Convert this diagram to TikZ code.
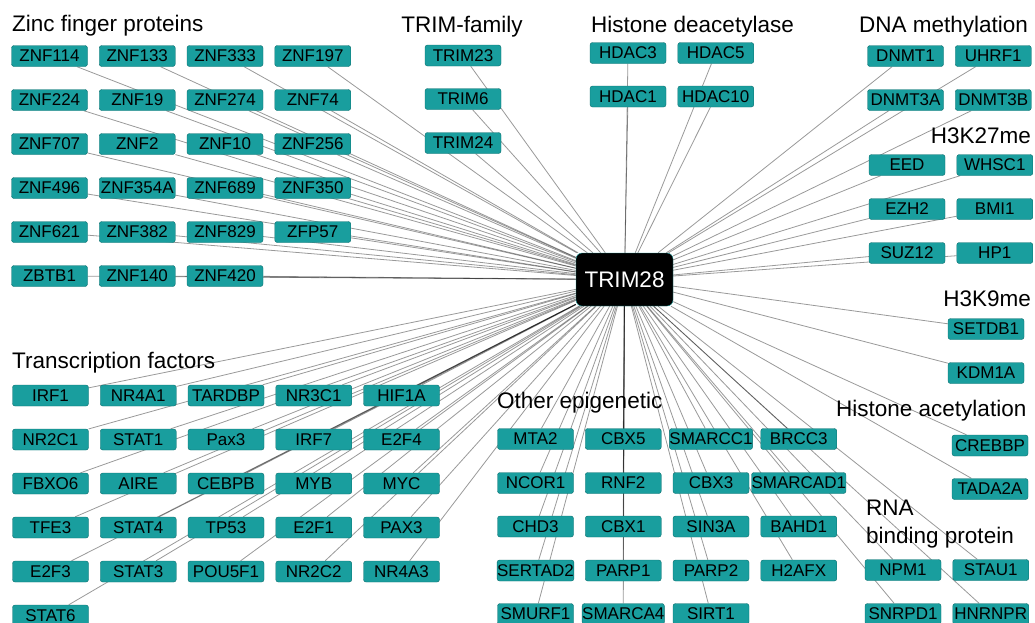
\documentclass[tikz,border=0pt]{standalone}
\usepackage{fontspec}
\setmainfont{Liberation Sans}
\usetikzlibrary{backgrounds}
\definecolor{genefill}{RGB}{25,158,158}
\definecolor{geneline}{RGB}{12,110,110}

\begin{document}
\begin{tikzpicture}[x=1pt, y=-1pt, node distance=87.75pt,
    gene/.style = {draw=geneline, fill=genefill, rounded corners=2.5pt, minimum width=76pt, minimum height=21pt, inner sep=0pt, font=\fontsize{17}{17}\selectfont},
    hub/.style = {draw=genefill, fill=black, text=white, rounded corners=6pt, minimum width=97pt, minimum height=53pt, font=\fontsize{22.5}{22.5}\selectfont},
    group/.style = {inner sep=0pt, font=\fontsize{22.5}{22.5}\selectfont},
    ppi/.style = {draw=black, opacity=0.4, line width=0.8pt}]
    \useasboundingbox (0,0) rectangle (1035,622);
    \clip (0,0) rectangle (1035,622);

    \node[hub] (trim28) at (624.5,279.5) {TRIM28};

    % zinc finger proteins
    \node[group, anchor=base west] (zfgroup) at (12,31.5) {Zinc finger proteins};
    \node[gene] (znf114) at (49.5,56) {ZNF114};
    \node[gene] (znf133) [right of=znf114] {ZNF133};
    \node[gene] (znf333) [right of=znf133] {ZNF333};
    \node[gene] (znf197) [right of=znf333] {ZNF197};
    \node[gene] (znf224) at (49.5,100) {ZNF224};
    \node[gene] (znf19) [right of=znf224] {ZNF19};
    \node[gene] (znf274) [right of=znf19] {ZNF274};
    \node[gene] (znf74) [right of=znf274] {ZNF74};
    \node[gene] (znf707) at (49.5,144) {ZNF707};
    \node[gene] (znf2) [right of=znf707] {ZNF2};
    \node[gene] (znf10) [right of=znf2] {ZNF10};
    \node[gene] (znf256) [right of=znf10] {ZNF256};
    \node[gene] (znf496) at (49.5,188) {ZNF496};
    \node[gene] (znf354a) [right of=znf496] {ZNF354A};
    \node[gene] (znf689) [right of=znf354a] {ZNF689};
    \node[gene] (znf350) [right of=znf689] {ZNF350};
    \node[gene] (znf621) at (49.5,232) {ZNF621};
    \node[gene] (znf382) [right of=znf621] {ZNF382};
    \node[gene] (znf829) [right of=znf382] {ZNF829};
    \node[gene] (zfp57) [right of=znf829] {ZFP57};
    \node[gene] (zbtb1) at (49.5,276) {ZBTB1};
    \node[gene] (znf140) [right of=zbtb1] {ZNF140};
    \node[gene] (znf420) [right of=znf140] {ZNF420};

    % TRIM family and deacetylases
    \node[group, anchor=base] (trimgroup) at (462,32) {TRIM-family};
    \node[gene] (trim23) at (463,55.5) {TRIM23};
    \node[gene] (trim6) at (463,99) {TRIM6};
    \node[gene] (trim24) at (463,143) {TRIM24};
    \node[group, anchor=base west] (hdacgroup) at (591,32) {Histone deacetylase};
    \node[gene] (hdac3) at (628,53) {HDAC3};
    \node[gene] (hdac5) [right of=hdac3] {HDAC5};
    \node[gene] (hdac1) at (628,96.5) {HDAC1};
    \node[gene] (hdac10) [right of=hdac1] {HDAC10};

    % DNA methylation, H3K27me, H3K9me
    \node[group, anchor=base west] (dnagroup) at (859,32) {DNA methylation};
    \node[gene] (dnmt1) at (905.5,56) {DNMT1};
    \node[gene] (uhrf1) [right of=dnmt1] {UHRF1};
    \node[gene] (dnmt3a) at (905.5,100) {DNMT3A};
    \node[gene] (dnmt3b) [right of=dnmt3a] {DNMT3B};
    \node[group, anchor=base east] (k27group) at (1031,143.5) {H3K27me};
    \node[gene] (eed) at (907,165) {EED};
    \node[gene] (whsc1) [right of=eed] {WHSC1};
    \node[gene] (ezh2) at (907,209) {EZH2};
    \node[gene] (bmi1) [right of=ezh2] {BMI1};
    \node[gene] (suz12) at (907,253) {SUZ12};
    \node[gene] (hp1) [right of=suz12] {HP1};
    \node[group, anchor=base east] (k9group) at (1031,306) {H3K9me};
    \node[gene] (setdb1) at (986,329) {SETDB1};
    \node[gene] (kdm1a) at (986,373) {KDM1A};

    % transcription factors
    \node[group, anchor=base west] (tfgroup) at (12,368) {Transcription factors};
    \node[gene] (irf1) at (50.5,395.5) {IRF1};
    \node[gene] (nr4a1) [right of=irf1] {NR4A1};
    \node[gene] (tardbp) [right of=nr4a1] {TARDBP};
    \node[gene] (nr3c1) [right of=tardbp] {NR3C1};
    \node[gene] (hif1a) [right of=nr3c1] {HIF1A};
    \node[gene] (nr2c1) at (50.5,439.5) {NR2C1};
    \node[gene] (stat1) [right of=nr2c1] {STAT1};
    \node[gene] (pax3m) [right of=stat1] {Pax3};
    \node[gene] (irf7) [right of=pax3m] {IRF7};
    \node[gene] (e2f4) [right of=irf7] {E2F4};
    \node[gene] (fbxo6) at (50.5,483.5) {FBXO6};
    \node[gene] (aire) [right of=fbxo6] {AIRE};
    \node[gene] (cebpb) [right of=aire] {CEBPB};
    \node[gene] (myb) [right of=cebpb] {MYB};
    \node[gene] (myc) [right of=myb] {MYC};
    \node[gene] (tfe3) at (50.5,527.5) {TFE3};
    \node[gene] (stat4) [right of=tfe3] {STAT4};
    \node[gene] (tp53) [right of=stat4] {TP53};
    \node[gene] (e2f1) [right of=tp53] {E2F1};
    \node[gene] (pax3) [right of=e2f1] {PAX3};
    \node[gene] (e2f3) at (50.5,571.5) {E2F3};
    \node[gene] (stat3) [right of=e2f3] {STAT3};
    \node[gene] (pou5f1) [right of=stat3] {POU5F1};
    \node[gene] (nr2c2) [right of=pou5f1] {NR2C2};
    \node[gene] (nr4a3) [right of=nr2c2] {NR4A3};
    \node[gene] (stat6) at (50.5,615.5) {STAT6};

    % other epigenetic
    \node[group, anchor=base west] (epigroup) at (497,408) {Other epigenetic};
    \node[gene] (mta2) at (535.5,439) {MTA2};
    \node[gene] (cbx5) [right of=mta2] {CBX5};
    \node[gene] (smarcc1) [right of=cbx5] {SMARCC1};
    \node[gene] (brcc3) [right of=smarcc1] {BRCC3};
    \node[gene] (ncor1) at (535.5,483) {NCOR1};
    \node[gene] (rnf2) [right of=ncor1] {RNF2};
    \node[gene] (cbx3) [right of=rnf2] {CBX3};
    \node[gene] (smarcad1) [right of=cbx3] {SMARCAD1};
    \node[gene] (chd3) at (535.5,526.5) {CHD3};
    \node[gene] (cbx1) [right of=chd3] {CBX1};
    \node[gene] (sin3a) [right of=cbx1] {SIN3A};
    \node[gene] (bahd1) [right of=sin3a] {BAHD1};
    \node[gene] (sertad2) at (535.5,570.5) {SERTAD2};
    \node[gene] (parp1) [right of=sertad2] {PARP1};
    \node[gene] (parp2) [right of=parp1] {PARP2};
    \node[gene] (h2afx) [right of=parp2] {H2AFX};
    \node[gene] (smurf1) at (535.5,614) {SMURF1};
    \node[gene] (smarca4) [right of=smurf1] {SMARCA4};
    \node[gene] (sirt1) [right of=smarca4] {SIRT1};

    % histone acetylation, RNA binding
    \node[group, anchor=base west] (acgroup) at (836,416.5) {Histone acetylation};
    \node[gene] (crebbp) at (990,445.5) {CREBBP};
    \node[gene] (tada2a) at (990,489) {TADA2A};
    \node[group, anchor=base west] (rnagroup) at (866,515) {RNA};
    \node[group, anchor=base west] (rnagroup2) at (866,543.5) {binding protein};
    \node[gene] (npm1) at (903,570) {NPM1};
    \node[gene] (stau1) [right of=npm1] {STAU1};
    \node[gene] (snrpd1) at (903,614) {SNRPD1};
    \node[gene] (hnrnpr) [right of=snrpd1] {HNRNPR};

    \begin{pgfonlayer}{background}
    \draw[ppi] (znf114) -- (trim28); \draw[ppi] (znf133) -- (trim28); \draw[ppi] (znf333) -- (trim28); \draw[ppi] (znf197) -- (trim28);
    \draw[ppi] (znf224) -- (trim28); \draw[ppi] (znf19) -- (trim28); \draw[ppi] (znf274) -- (trim28); \draw[ppi] (znf74) -- (trim28);
    \draw[ppi] (znf707) -- (trim28); \draw[ppi] (znf2) -- (trim28); \draw[ppi] (znf10) -- (trim28); \draw[ppi] (znf256) -- (trim28);
    \draw[ppi] (znf496) -- (trim28); \draw[ppi] (znf354a) -- (trim28); \draw[ppi] (znf689) -- (trim28); \draw[ppi] (znf350) -- (trim28);
    \draw[ppi] (znf621) -- (trim28); \draw[ppi] (znf382) -- (trim28); \draw[ppi] (znf829) -- (trim28); \draw[ppi] (zfp57) -- (trim28);
    \draw[ppi] (zbtb1) -- (trim28); \draw[ppi] (znf140) -- (trim28); \draw[ppi] (znf420) -- (trim28);
    \draw[ppi] (trim23) -- (trim28); \draw[ppi] (trim6) -- (trim28); \draw[ppi] (trim24) -- (trim28);
    \draw[ppi] (hdac3) -- (trim28); \draw[ppi] (hdac5) -- (trim28); \draw[ppi] (hdac1) -- (trim28); \draw[ppi] (hdac10) -- (trim28);
    \draw[ppi] (dnmt1) -- (trim28); \draw[ppi] (uhrf1) -- (trim28); \draw[ppi] (dnmt3a) -- (trim28); \draw[ppi] (dnmt3b) -- (trim28);
    \draw[ppi] (eed) -- (trim28); \draw[ppi] (whsc1) -- (trim28); \draw[ppi] (ezh2) -- (trim28); \draw[ppi] (bmi1) -- (trim28);
    \draw[ppi] (suz12) -- (trim28); \draw[ppi] (hp1) -- (trim28); \draw[ppi] (setdb1) -- (trim28); \draw[ppi] (kdm1a) -- (trim28);
    \draw[ppi] (irf1) -- (trim28); \draw[ppi] (nr4a1) -- (trim28); \draw[ppi] (tardbp) -- (trim28); \draw[ppi] (nr3c1) -- (trim28); \draw[ppi] (hif1a) -- (trim28);
    \draw[ppi] (nr2c1) -- (trim28); \draw[ppi] (stat1) -- (trim28); \draw[ppi] (pax3m) -- (trim28); \draw[ppi] (irf7) -- (trim28); \draw[ppi] (e2f4) -- (trim28);
    \draw[ppi] (fbxo6) -- (trim28); \draw[ppi] (aire) -- (trim28); \draw[ppi] (cebpb) -- (trim28); \draw[ppi] (myb) -- (trim28); \draw[ppi] (myc) -- (trim28);
    \draw[ppi] (tfe3) -- (trim28); \draw[ppi] (stat4) -- (trim28); \draw[ppi] (tp53) -- (trim28); \draw[ppi] (e2f1) -- (trim28); \draw[ppi] (pax3) -- (trim28);
    \draw[ppi] (e2f3) -- (trim28); \draw[ppi] (stat3) -- (trim28); \draw[ppi] (pou5f1) -- (trim28); \draw[ppi] (nr2c2) -- (trim28); \draw[ppi] (nr4a3) -- (trim28);
    \draw[ppi] (stat6) -- (trim28);
    \draw[ppi] (mta2) -- (trim28); \draw[ppi] (cbx5) -- (trim28); \draw[ppi] (smarcc1) -- (trim28); \draw[ppi] (brcc3) -- (trim28);
    \draw[ppi] (ncor1) -- (trim28); \draw[ppi] (rnf2) -- (trim28); \draw[ppi] (cbx3) -- (trim28); \draw[ppi] (smarcad1) -- (trim28);
    \draw[ppi] (chd3) -- (trim28); \draw[ppi] (cbx1) -- (trim28); \draw[ppi] (sin3a) -- (trim28); \draw[ppi] (bahd1) -- (trim28);
    \draw[ppi] (sertad2) -- (trim28); \draw[ppi] (parp1) -- (trim28); \draw[ppi] (parp2) -- (trim28); \draw[ppi] (h2afx) -- (trim28);
    \draw[ppi] (smurf1) -- (trim28); \draw[ppi] (smarca4) -- (trim28); \draw[ppi] (sirt1) -- (trim28);
    \draw[ppi] (crebbp) -- (trim28); \draw[ppi] (tada2a) -- (trim28);
    \draw[ppi] (npm1) -- (trim28); \draw[ppi] (stau1) -- (trim28); \draw[ppi] (snrpd1) -- (trim28); \draw[ppi] (hnrnpr) -- (trim28);
    \end{pgfonlayer}
\end{tikzpicture}
\end{document}
